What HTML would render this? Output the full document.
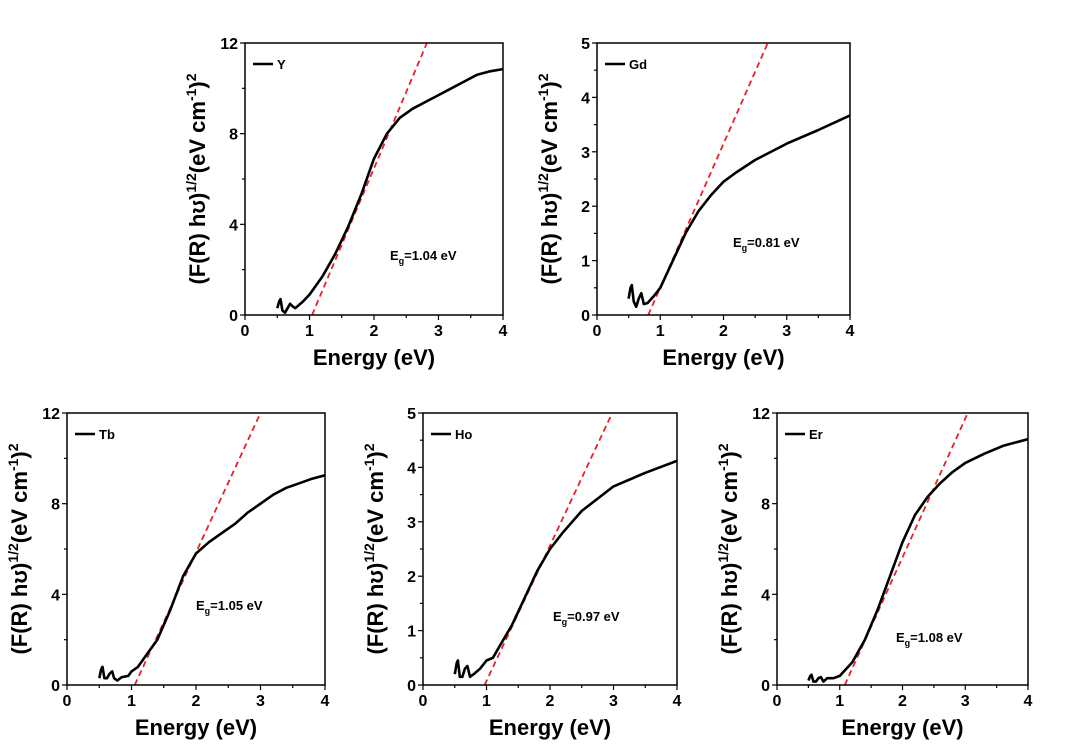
<!DOCTYPE html>
<html><head><meta charset="utf-8"><style>
body{margin:0;background:#fff}
svg text{font-family:"Liberation Sans",Arial,sans-serif;font-weight:bold;fill:#000}
</style></head><body>
<svg id="fig" width="1080" height="748" viewBox="0 0 1080 748" xmlns="http://www.w3.org/2000/svg"></svg>
<script>
const panelNames=["Y","Gd","Tb","Ho","Er"];
const yMaxes=[12,5,12,5,12];
const yTickSets=[[0,4,8,12],[0,1,2,3,4,5],[0,4,8,12],[0,1,2,3,4,5],[0,4,8,12]];
const xTicks=[0,1,2,3,4];
const egValues=["1.04","0.81","1.05","0.97","1.08"];
const fitStart=[1.04,0.81,1.05,0.97,1.08];
const fitEnd=[2.82,2.70,3.0,2.98,3.04];
const xY=[0.5,0.53,0.55,0.58,0.62,0.66,0.7,0.73,0.78,0.9,1.0,1.2,1.4,1.6,1.8,2.0,2.2,2.4,2.6,2.8,3.0,3.2,3.4,3.6,3.8,4.0];
const vY=[0.3,0.6,0.7,0.2,0.1,0.3,0.5,0.4,0.3,0.6,0.9,1.7,2.7,3.9,5.3,6.9,8.0,8.7,9.1,9.4,9.7,10.0,10.3,10.6,10.75,10.85];
const xGd=[0.5,0.53,0.55,0.58,0.62,0.66,0.7,0.74,0.8,0.9,1.0,1.2,1.4,1.6,1.8,2.0,2.2,2.5,3.0,3.5,4.0];
const vGd=[0.3,0.5,0.55,0.25,0.15,0.3,0.4,0.2,0.22,0.35,0.5,1.0,1.5,1.9,2.2,2.45,2.62,2.85,3.15,3.4,3.67];
const xTb=[0.5,0.53,0.55,0.58,0.62,0.66,0.7,0.73,0.78,0.85,0.95,1.0,1.1,1.2,1.4,1.6,1.8,2.0,2.2,2.4,2.6,2.8,3.0,3.2,3.4,3.6,3.8,4.0];
const vTb=[0.3,0.7,0.8,0.3,0.3,0.5,0.6,0.3,0.2,0.35,0.4,0.6,0.8,1.2,2.0,3.3,4.8,5.8,6.3,6.7,7.1,7.6,8.0,8.4,8.7,8.9,9.1,9.25];
const xHo=[0.5,0.53,0.55,0.58,0.62,0.66,0.7,0.74,0.8,0.9,1.0,1.1,1.2,1.4,1.6,1.8,2.0,2.2,2.5,3.0,3.5,4.0];
const vHo=[0.2,0.4,0.45,0.15,0.15,0.3,0.35,0.15,0.2,0.3,0.45,0.5,0.7,1.1,1.6,2.1,2.5,2.8,3.2,3.65,3.9,4.12];
const xEr=[0.5,0.53,0.55,0.58,0.62,0.66,0.7,0.74,0.8,0.9,1.0,1.2,1.4,1.6,1.8,2.0,2.2,2.4,2.6,2.8,3.0,3.3,3.6,4.0];
const vEr=[0.2,0.4,0.45,0.15,0.15,0.3,0.35,0.15,0.3,0.3,0.4,1.0,2.0,3.3,4.8,6.3,7.5,8.3,8.9,9.4,9.8,10.2,10.55,10.85];
const seriesX=[xY,xGd,xTb,xHo,xEr];
const seriesV=[vY,vGd,vTb,vHo,vEr];
const boxes=[[245,503,43,315],[597,850,43,315],[67,325,413,685],[423,677,413,685],[777,1028,413,685]];
const egPos=[[390,260],[733,247],[196,610],[553,621],[896,642]];
const NS="http://www.w3.org/2000/svg";
const svg=document.getElementById('fig');
function mk(tag,attrs,parent,txt){const e=document.createElementNS(NS,tag);for(const k in attrs)e.setAttribute(k,attrs[k]);if(txt!==undefined)e.textContent=txt;(parent||svg).appendChild(e);return e;}
panelNames.forEach((nm,i)=>{
  const [L,R,T,B]=boxes[i];const ymax=yMaxes[i];
  const sx=v=>L+(R-L)*v/4, sy=v=>B-(B-T)*v/ymax;
  const g=mk('g',{});
  
  
  const clipId='c'+i;
  const cp=mk('clipPath',{id:clipId},g);mk('rect',{x:L,y:T,width:R-L,height:B-T},cp);
  const fl=mk('line',{x1:sx(fitStart[i]),y1:sy(0),x2:sx(fitEnd[i]),y2:sy(ymax),stroke:'#e8202a','stroke-width':1.8,'stroke-dasharray':'6,4','clip-path':'url(#'+clipId+')'},g);
  
  
  const xs=seriesX[i],vs=seriesV[i];
  let d='';xs.forEach((x,j)=>{d+=(j?'L':'M')+sx(x).toFixed(1)+','+sy(vs[j]).toFixed(1);});
  const cv=mk('path',{d:d,fill:'none',stroke:'#000','stroke-width':2.6,'stroke-linejoin':'round','clip-path':'url(#'+clipId+')'},g);
  
  
  const fr=mk('rect',{x:L,y:T,width:R-L,height:B-T,fill:'none',stroke:'#000','stroke-width':1.5},g);
  
  
  for(let k=0;k<=8;k++){const v=k/2,x=sx(v),len=k%2?3:5;
    mk('line',{x1:x,y1:B,x2:x,y2:B+len,stroke:'#000','stroke-width':1.2},g);}
  xTicks.forEach(v=>{const t=mk('text',{x:sx(v),y:B+21,'text-anchor':'middle','font-size':16},g,String(v));
    });
  const yt=yTickSets[i];const step=yt[1]-yt[0];
  for(let v=0;v<=ymax+1e-9;v+=step/2){const y=sy(v),maj=Math.abs(v/step-Math.round(v/step))<1e-6,len=maj?5:3;
    mk('line',{x1:L,y1:y,x2:L-len,y2:y,stroke:'#000','stroke-width':1.2},g);}
  yt.forEach(v=>{const t=mk('text',{x:L-7,y:sy(v)+6,'text-anchor':'end','font-size':16},g,String(v));
    });
  const xl=mk('text',{x:(L+R)/2,y:B+50,'text-anchor':'middle','font-size':22},g,'Energy (eV)');
  
  const yl=mk('text',{x:0,y:0,'text-anchor':'middle','font-size':22,transform:'translate('+(L-40)+','+((T+B)/2)+') rotate(-90)'},g);
  
  yl.innerHTML='(F(R) h\u028A)<tspan font-size="14" dy="-9">1/2</tspan><tspan dy="9">(eV cm</tspan><tspan font-size="14" dy="-9">-1</tspan><tspan dy="9">)</tspan><tspan font-size="14" dy="-9">2</tspan>';
  const lg=mk('g',{},g);
  
  mk('line',{x1:L+8,y1:T+21,x2:L+28,y2:T+21,stroke:'#000','stroke-width':2.6},lg);
  mk('text',{x:L+32,y:T+26,'font-size':13},lg,nm);
  const eg=mk('text',{x:egPos[i][0],y:egPos[i][1],'font-size':13},g);
  
  eg.innerHTML='E<tspan font-size="9" dy="4">g</tspan><tspan dy="-4">='+egValues[i]+' eV</tspan>';
});
</script>
</body></html>
